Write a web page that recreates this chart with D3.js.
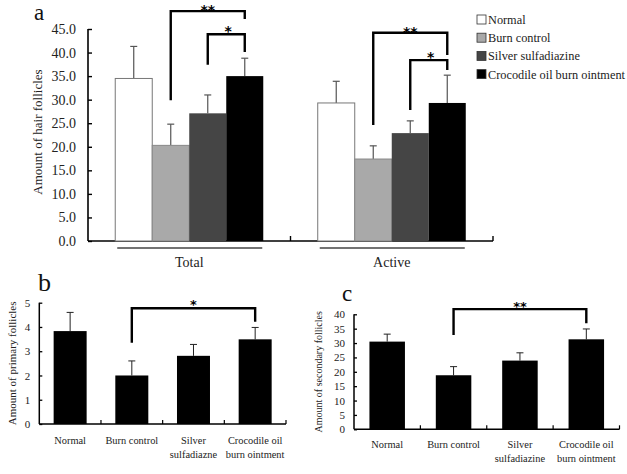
<!DOCTYPE html>
<html><head><meta charset="utf-8">
<script src="https://cdn.jsdelivr.net/npm/d3@7"></script>
<style>body{margin:0;background:#fff}svg{display:block}</style>
</head><body><svg id="c" width="627" height="474"></svg>
<script>
// ---------- DATA ----------
const seriesA = ["Normal","Burn control","Silver sulfadiazine","Crocodile oil burn ointment"];
const groupsA = ["Total","Active"];
const meanTotal = [34.5, 20.3, 27.1, 35.0];
const errTotal  = [41.3, 24.8, 31.0, 38.8];
const meanActive = [29.3, 17.4, 22.9, 29.3];
const errActive  = [33.9, 20.2, 25.5, 35.2];
const ticksA = [0,5,10,15,20,25,30,35,40,45];

const catsBC = ["Normal","Burn control","Silver sulfadiazne","Crocodile oil burn ointment"];
const catLinesB = [["Normal"],["Burn control"],["Silver","sulfadiazne"],["Crocodile oil","burn ointment"]];
const catLinesC = [["Normal"],["Burn control"],["Silver","sulfadiazine"],["Crocodile oil","burn ointment"]];
const meanB = [3.83, 2.0, 2.81, 3.49];
const errB  = [4.6, 2.6, 3.28, 3.98];
const ticksB = [0,1,2,3,4,5];
const meanC = [30.5, 18.8, 23.9, 31.3];
const errC  = [33.1, 21.8, 26.6, 34.9];
const ticksC = [0,5,10,15,20,25,30,35,40];

// significance brackets: [group, fromSeries, toSeries, top, leftBottom, rightBottom, label]
const sigA = [
  ["Total", 1, 3, 48.8, 29.9, 47.1, "**"],
  ["Total", 2, 3, 43.9, 37.4, 40.1, "*"],
  ["Active", 1, 3, 44.2, 24.6, 39.5, "**"],
  ["Active", 2, 3, 38.4, 27.8, 36.3, "*"]
];
const sigB = [[1, 3, 4.77, 3.35, 4.21, "*"]];
const sigC = [[1, 3, 41.8, 32.8, 36.9, "**"]];

const colorsA = ["#ffffff","#a9a9a9","#454545","#000000"];
const FONT = "'Liberation Serif', Tinos, 'Times New Roman', Times, 'DejaVu Serif', serif";

// ---------- DRAW ----------
const svg = d3.select("#c");

// ===== Panel a =====
const ya = d3.scaleLinear().domain([0,45]).range([241,29]);
const x0a = d3.scaleBand().domain(groupsA).range([88,493]);
const x1a = d3.scaleBand().domain(seriesA).range([0,x0a.bandwidth()]).paddingInner(0).paddingOuter(0.736);
const gA = svg.append("g");
const dataA = {Total:[meanTotal,errTotal], Active:[meanActive,errActive]};

const axA = d3.axisLeft(ya).tickValues(ticksA).tickFormat(d3.format(".1f")).tickSize(-4).tickPadding(12);
const gya = gA.append("g").attr("transform","translate(88,0)").call(axA);
gya.attr("font-family",FONT);
gya.select(".domain").attr("stroke-width",1.6).attr("d",`M0,${ya(45)}V${ya(0)}`);
gya.selectAll(".tick line").attr("stroke-width",1.4);
gya.selectAll("text").attr("font-size",14).attr("fill","#222").style("font-family",FONT);
gA.append("line").attr("x1",88).attr("x2",x0a.range()[1]).attr("y1",ya(0)).attr("y2",ya(0)).attr("stroke","#000").attr("stroke-width",1.6);
[x0a("Active"), x0a.range()[1]].forEach(xx=>{
  gA.append("line").attr("x1",xx).attr("x2",xx).attr("y1",ya(0)).attr("y2",ya(0)-5).attr("stroke","#000").attr("stroke-width",1.4);
});

groupsA.forEach(gname=>{
  const [m,e] = dataA[gname];
  const gx = x0a(gname);
  seriesA.forEach((s,i)=>{
    const bx = gx + x1a(s), bw = x1a.bandwidth();
    gA.append("line").attr("x1",bx+bw/2).attr("x2",bx+bw/2).attr("y1",ya(m[i])).attr("y2",ya(e[i])).attr("stroke","#555").attr("stroke-width",1.2);
    gA.append("line").attr("x1",bx+bw/2-3.5).attr("x2",bx+bw/2+3.5).attr("y1",ya(e[i])).attr("y2",ya(e[i])).attr("stroke","#555").attr("stroke-width",1.2);
    gA.append("rect").attr("x",bx).attr("y",ya(m[i])).attr("width",bw).attr("height",ya(0)-ya(m[i]))
      .attr("fill",colorsA[i]).attr("stroke", i===0?"#777":(i===1?"#888":"none")).attr("stroke-width",1);
  });
  const l = gx + x1a(seriesA[0]) + 2, r = gx + x1a(seriesA[3]) + x1a.bandwidth() - 1;
  gA.append("line").attr("x1",l).attr("x2",r).attr("y1",248).attr("y2",248).attr("stroke","#444").attr("stroke-width",1.3);
  gA.append("text").attr("x",gx + x0a.bandwidth()/2).attr("y",267).attr("text-anchor","middle").attr("font-size",14).attr("fill","#222").style("font-family",FONT).text(gname);
});

sigA.forEach(([gname,a,b,top,lb,rb,lab])=>{
  const gx = x0a(gname);
  const xl = gx + x1a(seriesA[a]) + x1a.bandwidth()/2;
  const xr = gx + x1a(seriesA[b]) + x1a.bandwidth()/2;
  gA.append("path").attr("d",`M${xl},${ya(lb)}V${ya(top)}H${xr}V${ya(rb)}`).attr("fill","none").attr("stroke","#000").attr("stroke-width",2.4);
  gA.append("text").attr("x",(xl+xr)/2 + (lab==="*"?2:0)).attr("y",ya(top)+(lab==="*"?2:4)).attr("text-anchor","middle").attr("font-size",14).attr("font-weight","bold").attr("fill","#000").style("font-family","'DejaVu Sans'").text(lab);
});

gA.append("text").attr("transform",`translate(42,132) rotate(-90)`).attr("text-anchor","middle").attr("font-size",13).attr("fill","#222").style("font-family",FONT).text("Amount of hair follicles");
gA.append("text").attr("x",34).attr("y",20).attr("font-size",23).attr("fill","#111").style("font-family",FONT).text("a");

const leg = gA.append("g");
seriesA.forEach((s,i)=>{
  const yy = 20 + i*18.2;
  leg.append("rect").attr("x",477).attr("y",yy-5).attr("width",9).attr("height",9).attr("fill",colorsA[i]).attr("stroke","#333").attr("stroke-width",0.8);
  leg.append("text").attr("x",488).attr("y",yy+4).attr("font-size",12.3).attr("fill","#222").style("font-family",FONT).text(s);
});

// ===== Panels b & c =====
function drawSmall(cfg){
  const {x0,x1,y0,y1,dom,ticks,mean,err,sig,lines,title,titleX,titleFs,letter,letterX,letterY,letterSize,labY,tickFs} = cfg;
  const y = d3.scaleLinear().domain(dom).range([y0,y1]);
  const x = d3.scaleBand().domain(catsBC).range([x0,x1]).paddingInner(0.465).paddingOuter(0.2325);
  const g = svg.append("g");
  const ax = d3.axisLeft(y).tickValues(ticks).tickFormat(d3.format("d")).tickSize(-3).tickPadding(9);
  const gy = g.append("g").attr("transform",`translate(${x0},0)`).call(ax);
  gy.attr("font-family",FONT);
  gy.select(".domain").attr("stroke-width",1.5).attr("d",`M0,${y(dom[1])}V${y(0)}`);
  gy.selectAll(".tick line").attr("stroke-width",1.3);
  gy.selectAll("text").attr("font-size",tickFs).attr("fill","#222").style("font-family",FONT);
  g.append("line").attr("x1",x0).attr("x2",x1).attr("y1",y(0)).attr("y2",y(0)).attr("stroke","#000").attr("stroke-width",1.5);
  const step = x.step();
  for(let i=1;i<=catsBC.length;i++){
    const xx = x0 + i*step;
    g.append("line").attr("x1",xx).attr("x2",xx).attr("y1",y(0)).attr("y2",y(0)-4).attr("stroke","#000").attr("stroke-width",1.2);
  }
  catsBC.forEach((c,i)=>{
    const bx = x(c), bw = x.bandwidth(), cx = bx+bw/2;
    g.append("line").attr("x1",cx).attr("x2",cx).attr("y1",y(mean[i])).attr("y2",y(err[i])).attr("stroke","#222").attr("stroke-width",1);
    g.append("line").attr("x1",cx-3.5).attr("x2",cx+3.5).attr("y1",y(err[i])).attr("y2",y(err[i])).attr("stroke","#222").attr("stroke-width",1);
    g.append("rect").attr("x",bx).attr("y",y(mean[i])).attr("width",bw).attr("height",y(0)-y(mean[i])).attr("fill","#000");
    lines[i].forEach((t,j)=>{
      g.append("text").attr("x",cx).attr("y",labY + j*14).attr("text-anchor","middle").attr("font-size",10.4).attr("fill","#222").style("font-family",FONT).text(t);
    });
  });
  sig.forEach(([a,b,top,lb,rb,lab])=>{
    const xl = x(catsBC[a]) + x.bandwidth()/2, xr = x(catsBC[b]) + x.bandwidth()/2;
    g.append("path").attr("d",`M${xl},${y(lb)}V${y(top)}H${xr}V${y(rb)}`).attr("fill","none").attr("stroke","#000").attr("stroke-width",2.4);
    g.append("text").attr("x",(xl+xr)/2).attr("y",y(top)+(lab==="*"?1:2)).attr("text-anchor","middle").attr("font-size",13).attr("font-weight","bold").attr("fill","#000").style("font-family","'DejaVu Sans'").text(lab);
  });
  g.append("text").attr("transform",`translate(${titleX},${(y0+y1)/2}) rotate(-90)`).attr("text-anchor","middle").attr("font-size",titleFs).attr("fill","#222").style("font-family",FONT).text(title);
  g.append("text").attr("x",letterX).attr("y",letterY).attr("font-size",letterSize).attr("fill","#111").style("font-family",FONT).text(letter);
}

drawSmall({x0:39.3,x1:286,y0:424,y1:302.7,dom:[0,5],ticks:ticksB,mean:meanB,err:errB,sig:sigB,lines:catLinesB,
  title:"Amount of primary follicles",titleX:16,titleFs:11,letter:"b",letterX:38,letterY:291,letterSize:26,labY:444,tickFs:11});
drawSmall({x0:354,x1:619.5,y0:429.3,y1:314.3,dom:[0,40],ticks:ticksC,mean:meanC,err:errC,sig:sigC,lines:catLinesC,
  title:"Amount of secondary follicles",titleX:322,titleFs:10,letter:"c",letterX:342,letterY:301,letterSize:23,labY:448,tickFs:11});
</script></body></html>
